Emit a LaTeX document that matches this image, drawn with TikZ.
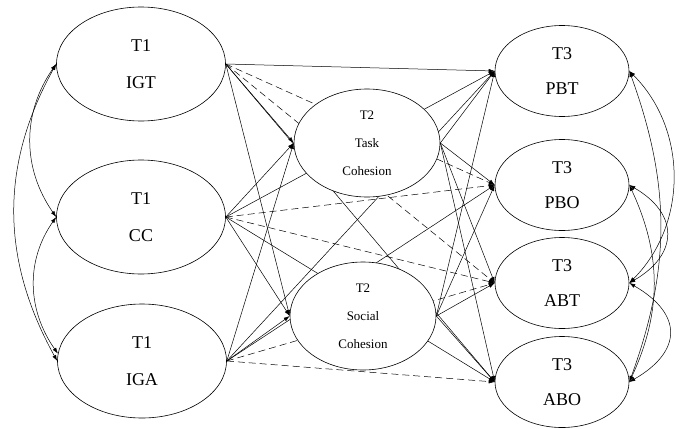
\documentclass[tikz,border=0pt]{standalone}
\usepackage{fontspec}
\setmainfont{Liberation Serif}
\usetikzlibrary{shapes.geometric,arrows.meta,backgrounds}

\tikzset{
  latent/.style={draw, ellipse, fill=white, line width=0.6pt, align=center, inner sep=0pt},
  tone/.style={latent, minimum width=169pt, minimum height=114pt, font=\fontsize{18}{37}\selectfont},
  ttwo/.style={latent, minimum width=146pt, minimum height=108pt, font=\fontsize{13}{28}\selectfont},
  tthree/.style={latent, minimum width=134pt, minimum height=91pt, font=\fontsize{18}{35}\selectfont},
  reg/.style={-{Latex[length=6pt,width=4pt]}, line width=0.5pt},
  regd/.style={reg, dash pattern=on 7pt off 4pt},
  cov/.style={{Latex[length=6pt,width=4pt]}-{Latex[length=6pt,width=4pt]}, line width=0.5pt}
}

\begin{document}
\begin{tikzpicture}[x=1pt, y=-1pt]
  \useasboundingbox (0,0) rectangle (679,428);
  \node[tone] (igt) at (141,64) {T1\\IGT};
  \node[tone] (cc) at (141,217) {T1\\CC};
  \node[tone] (iga) at (142,361) {T1\\IGA};
  \node[ttwo] (task) at (367,143) {T2\\Task\\Cohesion};
  \node[ttwo] (social) at (363,316) {T2\\Social\\Cohesion};
  \node[tthree] (pbt) at (562,71) {T3\\PBT};
  \node[tthree] (pbo) at (562,185) {T3\\PBO};
  \node[tthree] (abt) at (562,283) {T3\\ABT};
  \node[tthree] (abo) at (562,382) {T3\\ABO};
  \begin{pgfonlayer}{background}
    \foreach \a/\b in {igt/task, igt/social, igt/pbt, igt/abo, cc/task, cc/social, cc/pbt, cc/abo,
                       iga/task, iga/social, iga/pbt, iga/pbo, task/pbt, task/pbo, task/abt, task/abo,
                       social/pbt, social/pbo, social/abt, social/abo}
      \draw[reg] (\a.east) -- (\b.west);
    \foreach \a/\b in {igt/pbo, igt/abt, cc/pbo, cc/abt, iga/abt, iga/abo}
      \draw[regd] (\a.east) -- (\b.west);
  \end{pgfonlayer}
  \draw[cov] (igt.west) to[out=235, in=125] (cc.west);
  \draw[cov] (cc.west) to[out=235, in=125] (iga.175);
  \draw[cov] (igt.west) to[out=241, in=119] (iga.west);
  \draw[cov] (pbt.east) to[out=-45, in=45] (abt.east);
  \draw[cov] (pbt.east) to[out=-70, in=70] (abo.east);
  \draw[cov] (pbo.east) to[out=-30, in=30, looseness=1.5] (abt.east);
  \draw[cov] (pbo.east) to[out=-65, in=65] (abo.east);
  \draw[cov] (abt.east) to[out=-30, in=30, looseness=1.6] (abo.east);
\end{tikzpicture}
\end{document}
